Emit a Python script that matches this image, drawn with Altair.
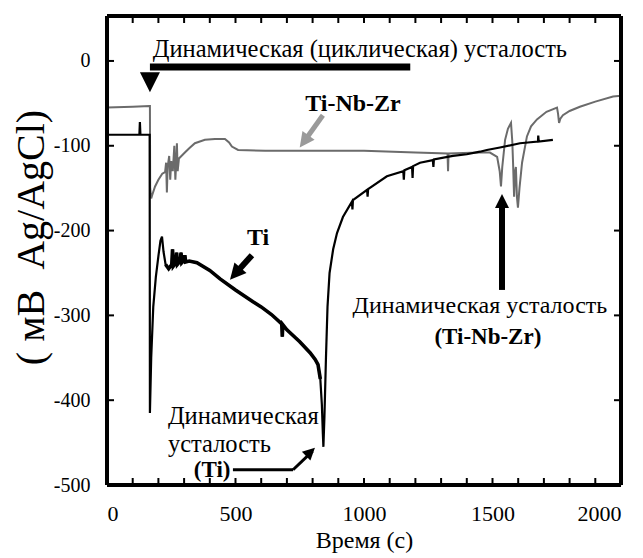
import altair as alt
import pandas as pd

# ---- data (time in s, potential in mV vs Ag/AgCl) ----
tinbzr_t = [0, 100, 166, 167, 168, 172, 176, 187, 200, 215, 226, 230, 233, 236, 242, 246, 250, 256,
            262, 266, 270, 272, 275, 280, 303, 320, 342, 381, 420, 459, 475, 486, 510, 615, 800,
            1000, 1200, 1325, 1327, 1329, 1450, 1490, 1518, 1528, 1533, 1538, 1549, 1560, 1572,
            1577, 1580, 1584, 1588, 1591, 1595, 1599, 1605, 1615, 1634, 1650, 1673, 1710, 1751,
            1755, 1759, 1764, 1774, 1800, 1840, 1900, 1969, 2000]
tinbzr_e = [-55, -54, -53, -53, -150, -162, -158, -148, -140, -133, -131, -120, -155, -125, -112, -140,
            -118, -130, -100, -140, -115, -97, -130, -115, -108, -103, -97, -93, -92, -92, -96, -101,
            -105, -106, -106, -106, -108, -109, -130, -109, -108, -108, -113, -130, -148, -125, -93,
            -80, -73, -95, -120, -160, -130, -125, -160, -173, -150, -120, -89, -77, -69, -60, -55,
            -62, -73, -68, -64, -59, -54, -48, -42, -41]

ti_t = [0, 120, 126, 128, 130, 166, 167, 172, 180, 190, 200, 208, 214, 220, 228, 240, 252, 255, 258,
        268, 271, 274, 285, 288, 291, 300, 303, 306, 320, 350, 400, 440, 500, 568, 600, 640, 680,
        682, 684, 700, 750, 790, 810, 821, 830, 836, 840, 842, 846, 852, 858, 866, 880, 895, 918,
        953, 955, 957, 1012, 1014, 1016, 1089, 1153, 1155, 1157, 1187, 1189, 1191, 1218, 1268,
        1270, 1272, 1346, 1400, 1451, 1478, 1529, 1607, 1677, 1678, 1680, 1735]
ti_e = [-87, -87, -87, -72, -87, -87, -415, -350, -290, -255, -230, -212, -207, -225, -240, -245,
        -240, -222, -242, -238, -226, -240, -236, -226, -238, -235, -229, -237, -236, -238, -247,
        -257, -270, -284, -290, -299, -310, -325, -311, -317, -331, -344, -352, -358, -375, -405,
        -440, -455, -420, -350, -290, -250, -222, -203, -184, -166, -175, -164, -152, -160, -151,
        -136, -130, -140, -129, -125, -138, -124, -120, -117, -125, -116, -112, -110, -107, -105,
        -102, -97, -95, -88, -95, -93]

x_label_values = [0, 500, 1000, 1500, 2000]
x_tick_values = list(range(0, 2001, 100))
y_tick_values = [-500, -400, -300, -200, -100, 0]

# annotations (data units)
ann_text = ["Динамическая (циклическая) усталость", "Ti-Nb-Zr", "Ti",
            "Динамическая усталость", "(Ti-Nb-Zr)", "Динамическая", "усталость", "(Ti)"]
ann_x = [984, 957, 588, 1451, 1482, 237, 237, 409]
ann_y = [13, -51, -209, -289, -325, -420, -453, -482]
ann_size = [24.5, 24, 24, 24, 23, 24.5, 24.5, 23]
ann_bold = [False, True, True, False, True, False, False, True]
ann_align = ["center", "center", "center", "center", "center", "left", "left", "center"]

W, H = 514, 469
FONT = "'Liberation Serif', 'Times New Roman', Times, 'DejaVu Serif', serif"

xs = alt.Scale(domain=[0, 2000], nice=False, zero=False)
ys = alt.Scale(domain=[-500, 53], nice=False, zero=False)

x_axis = alt.Axis(values=x_label_values, ticks=False, domain=False, grid=False,
                  labelExpr="format(datum.value, 'd')", labelPadding=18,
                  labelFont=FONT, labelFontSize=22, labelColor="black",
                  title="Время (с)", titlePadding=4, titleFont=FONT, titleFontSize=24,
                  titleFontWeight="normal", titleColor="black")
y_axis = alt.Axis(values=y_tick_values, ticks=False, domain=False, grid=False,
                  labelExpr="replace(format(datum.value, 'd'), '\u2212', '-')",
                  labelPadding=17, labelFont=FONT, labelFontSize=20, labelColor="black",
                  title="( мВ\u00a0\u00a0Ag/AgCl)", titleFont=FONT, titleFontSize=40,
                  titleFontWeight="normal", titleColor="black", titlePadding=2, titleY=221)


def X(field):
    return alt.X(field, scale=xs, axis=x_axis)


def Y(field):
    return alt.Y(field, scale=ys, axis=y_axis)


df_g = pd.DataFrame({"t": tinbzr_t, "e": tinbzr_e})
df_ti = pd.DataFrame({"t": ti_t, "e": ti_e})

gray_line = alt.Chart(df_g).mark_line(color="#6b6b6b", strokeWidth=2, clip=True).encode(
    x=X("t:Q"), y=Y("e:Q"), order="t:Q")
ti_line = alt.Chart(df_ti).mark_line(color="black", strokeWidth=2.2, clip=True).encode(
    x=X("t:Q"), y=Y("e:Q"), order="t:Q")
ti_thick = alt.Chart(df_ti).transform_filter(
    (alt.datum.t >= 228) & (alt.datum.t <= 832)
).mark_line(color="black", strokeWidth=3.6, clip=True).encode(
    x=X("t:Q"), y=Y("e:Q"), order="t:Q")

# inward ticks
df_xt = pd.DataFrame({"t": x_tick_values})
df_yt = pd.DataFrame({"e": y_tick_values})
tick_bottom = alt.Chart(df_xt).mark_rule(color="black", strokeWidth=2).encode(
    x=X("t:Q"), y=alt.value(H), y2=alt.value(H - 7))
tick_top = alt.Chart(df_xt).mark_rule(color="black", strokeWidth=2).encode(
    x=X("t:Q"), y=alt.value(0), y2=alt.value(7))
tick_left = alt.Chart(df_yt).mark_rule(color="black", strokeWidth=2).encode(
    y=Y("e:Q"), x=alt.value(0), x2=alt.value(7))
tick_right = alt.Chart(df_yt).mark_rule(color="black", strokeWidth=2).encode(
    y=Y("e:Q"), x=alt.value(W), x2=alt.value(W - 7))

# plot frame
frame_top = alt.Chart(df_xt).mark_rule(color="black", strokeWidth=2.5).encode(
    x=alt.value(0), x2=alt.value(W), y=alt.value(0))
frame_bottom = alt.Chart(df_xt).mark_rule(color="black", strokeWidth=2.5).encode(
    x=alt.value(0), x2=alt.value(W), y=alt.value(H))
frame_left = alt.Chart(df_xt).mark_rule(color="black", strokeWidth=2.5).encode(
    y=alt.value(0), y2=alt.value(H), x=alt.value(0))
frame_right = alt.Chart(df_xt).mark_rule(color="black", strokeWidth=2.5).encode(
    y=alt.value(0), y2=alt.value(H), x=alt.value(W))

# annotation texts
texts = []
for i in range(len(ann_text)):
    d = pd.DataFrame({"label": [ann_text[i]], "t": [ann_x[i]], "e": [ann_y[i]]})
    texts.append(alt.Chart(d).mark_text(
        font=FONT, fontWeight="bold" if ann_bold[i] else "normal", align=ann_align[i],
        baseline="middle", color="black", fontSize=ann_size[i]).encode(
        x=X("t:Q"), y=Y("e:Q"), text=alt.Text("label:N")))

# arrow shafts
seg_x = [167, 840, 564, 1537, 490, 724]
seg_y = [-7, -64, -229, -270, -482, -482]
seg_x2 = [1180, 767, 499, 1537, 724, 800]
seg_y2 = [-7, -95, -251, -168, -482, -460]
seg_col = ["black", "#9a9a9a", "black", "black", "black", "black"]
seg_w = [7, 5, 6, 6, 3, 3]
shafts = []
for i in range(len(seg_x)):
    d = pd.DataFrame({"t": [seg_x[i]], "e": [seg_y[i]], "t2": [seg_x2[i]], "e2": [seg_y2[i]]})
    shafts.append(alt.Chart(d).mark_rule(color=seg_col[i], strokeWidth=seg_w[i]).encode(
        x=X("t:Q"), y=Y("e:Q"), x2="t2:Q", y2="e2:Q"))

# arrow heads
head_x = [167, 767, 499, 1537, 792]
head_y = [-25, -95, -251, -165, -461]
head_angle = [180, 216, 221, 0, 46]
head_size = [400, 225, 256, 196, 150]
head_col = ["black", "#9a9a9a", "black", "black", "black"]
head_layers = []
for i in range(len(head_x)):
    d = pd.DataFrame({"t": [head_x[i]], "e": [head_y[i]]})
    head_layers.append(alt.Chart(d).mark_point(
        shape="M0,-1L-1,1L1,1Z", filled=True, opacity=1, strokeWidth=0,
        color=head_col[i], size=head_size[i], angle=head_angle[i]).encode(
        x=X("t:Q"), y=Y("e:Q")))

chart = alt.layer(
    gray_line, ti_line, ti_thick, tick_bottom, tick_top, tick_left, tick_right,
    frame_top, frame_bottom, frame_left, frame_right,
    *texts, *shafts, *head_layers
).properties(
    width=W, height=H,
    autosize=alt.AutoSizeParams(type="none"),
    padding={"left": 99, "top": 8, "right": 14, "bottom": 70},
).configure_view(stroke=None).configure(background="white")

chart.save("out.html", embed_options={"renderer": "svg", "actions": False})
